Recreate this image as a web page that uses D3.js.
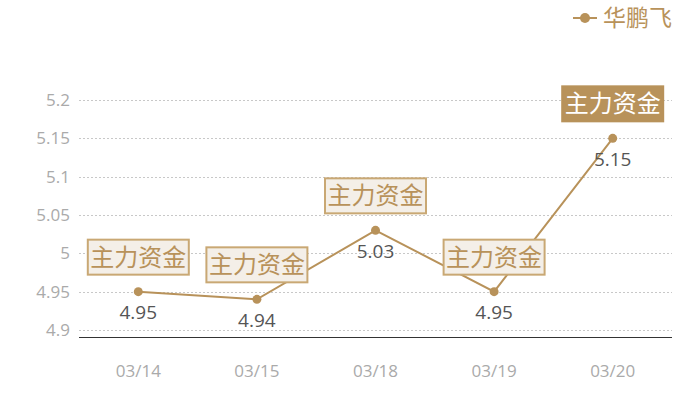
<!DOCTYPE html>
<html><head><meta charset="utf-8">
<script src="https://cdn.jsdelivr.net/npm/d3@7/dist/d3.min.js"></script>
<style>
html,body{margin:0;padding:0;background:#fff;}
svg{display:block;}
</style></head>
<body>
<svg id="chart" width="700" height="400"></svg>
<script>
const categories = ["03/14","03/15","03/18","03/19","03/20"];
const values = [4.95, 4.94, 5.03, 4.95, 5.15];
const yTicks = [4.9, 4.95, 5, 5.05, 5.1, 5.15, 5.2];
const seriesName = "华鹏飞";
const tagText = "主力资金";

const gold = "#b8925a";
const svg = d3.select("#chart");
const left = 79, right = 672;
const y = d3.scaleLinear().domain([4.9, 5.2]).range([330, 100]);
const x = d3.scaleBand().domain(categories).range([left, right]);
const cx = d => x(d) + x.bandwidth()/2;
const numFont = "'Open Sans','Noto Sans',sans-serif";
const cjkFont = "'Noto Sans CJK SC',sans-serif";

// grid
svg.append("g").selectAll("line").data(yTicks).join("line")
  .attr("x1", left).attr("x2", right)
  .attr("y1", d => Math.round(y(d))+0.5).attr("y2", d => Math.round(y(d))+0.5)
  .attr("stroke", "#c8c8c8").attr("stroke-dasharray", "2,2").attr("stroke-width", 1);

// y labels
svg.append("g").selectAll("text").data(yTicks).join("text")
  .attr("x", 70).attr("y", d => y(d)).attr("dy", "0.35em")
  .attr("text-anchor", "end").attr("fill", "#aaaaaa")
  .attr("font-family", numFont).attr("font-size", 17)
  .text(d => d3.format("")(d));

// x axis line
svg.append("line").attr("x1", left).attr("x2", right).attr("y1", 337.5).attr("y2", 337.5)
  .attr("stroke", "#333").attr("stroke-width", 1.2);

// x labels
svg.append("g").selectAll("text").data(categories).join("text")
  .attr("x", d => cx(d)).attr("y", 371).attr("dy", "0.35em")
  .attr("text-anchor", "middle").attr("fill", "#aaaaaa")
  .attr("font-family", numFont).attr("font-size", 17)
  .text(d => d);

const pts = categories.map((c,i) => ({c, v: values[i], i}));

// line
svg.append("path").datum(pts)
  .attr("d", d3.line().x(d => cx(d.c)).y(d => y(d.v)))
  .attr("fill", "none").attr("stroke", gold).attr("stroke-width", 2);

// points
svg.append("g").selectAll("circle").data(pts).join("circle")
  .attr("cx", d => cx(d.c)).attr("cy", d => y(d.v)).attr("r", 4.5).attr("fill", gold);

// value labels
svg.append("g").selectAll("text").data(pts).join("text")
  .attr("x", d => cx(d.c)).attr("y", d => y(d.v) + 21).attr("dy", "0.35em")
  .attr("text-anchor", "middle").attr("fill", "#555")
  .attr("font-family", numFont).attr("font-size", 19)
  .text(d => d3.format(".2f")(d.v));

// tags
const last = pts.length - 1;
const tags = svg.append("g").selectAll("g").data(pts).join("g")
  .attr("transform", d => `translate(${cx(d.c)},${y(d.v) - 17})`);
tags.append("rect")
  .attr("x", -50.5).attr("y", -35).attr("width", 101).attr("height", 35)
  .attr("fill", d => d.i === last ? gold : "#f4efe8")
  .attr("stroke", d => d.i === last ? gold : "#c9a874").attr("stroke-width", 2);
tags.append("text")
  .attr("x", 0).attr("y", -17.5).attr("dy", "0.36em")
  .attr("text-anchor", "middle")
  .attr("fill", d => d.i === last ? "#fff" : gold)
  .attr("font-family", cjkFont).attr("font-size", 24)
  .text(tagText);

// legend
const lg = svg.append("g").attr("transform", "translate(573,18)");
lg.append("line").attr("x1", 0).attr("x2", 24).attr("y1", 0).attr("y2", 0).attr("stroke", gold).attr("stroke-width", 2);
lg.append("circle").attr("cx", 12).attr("cy", 0).attr("r", 5).attr("fill", gold);
lg.append("text").attr("x", 30).attr("y", 0).attr("dy", "0.36em")
  .attr("fill", gold).attr("font-family", cjkFont).attr("font-size", 23).text(seriesName);
</script>
</body></html>
